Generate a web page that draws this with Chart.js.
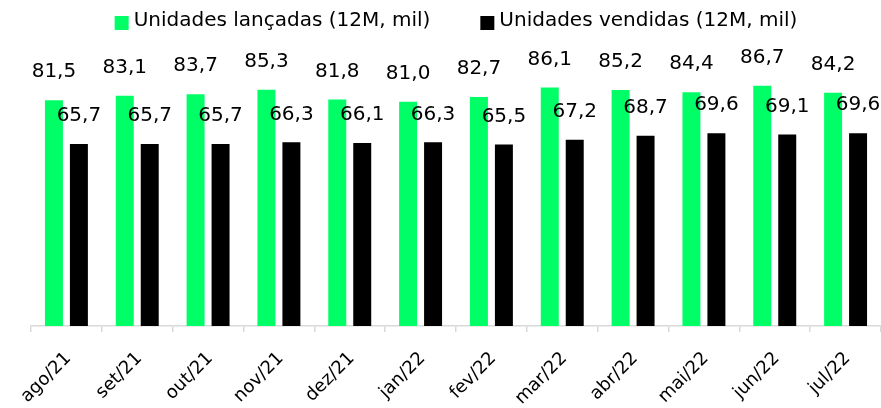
<!DOCTYPE html>
<html>
<head>
<meta charset="utf-8">
<script src="https://cdn.jsdelivr.net/npm/chart.js@4.4.0/dist/chart.umd.min.js"></script>
<style>
  html, body { margin: 0; padding: 0; background: #fff; }
  #wrap { width: 881px; height: 408px; position: relative; }
</style>
</head>
<body>
<div id="wrap"><canvas id="chart"></canvas></div>
<script>
// --- data
const categories = ['ago/21', 'set/21', 'out/21', 'nov/21', 'dez/21', 'jan/22',
                    'fev/22', 'mar/22', 'abr/22', 'mai/22', 'jun/22', 'jul/22'];
const lancadas = [81.5, 83.1, 83.7, 85.3, 81.8, 81.0, 82.7, 86.1, 85.2, 84.4, 86.7, 84.2];
const vendidas = [65.7, 65.7, 65.7, 66.3, 66.1, 66.3, 65.5, 67.2, 68.7, 69.6, 69.1, 69.6];
const seriesNames = ['Unidades lançadas (12M, mil)', 'Unidades vendidas (12M, mil)'];

const GREEN = '#00ff66';
const BLACK = '#000000';
const FONT = '"DejaVu Sans", sans-serif';

// value labels above each bar
const valueLabels = {
    id: 'valueLabels',
    afterDatasetsDraw(chart) {
        const ctx = chart.ctx;
        ctx.save();
        ctx.font = '20px ' + FONT;
        ctx.fillStyle = '#000';
        ctx.textAlign = 'center';
        ctx.textBaseline = 'middle';
        chart.data.datasets.forEach(function (ds, i) {
            chart.getDatasetMeta(i).data.forEach(function (bar, j) {
                const txt = ds.data[j].toFixed(1).replace('.', ',');
                ctx.fillText(txt, bar.x, bar.y - 28);
            });
        });
        ctx.restore();
    }
};

// legend drawn by hand, so item spacing matches
const topLegend = {
    id: 'topLegend',
    afterDraw(chart) {
        const ctx = chart.ctx;
        const box = 14, gapText = 5, gapItem = 50;
        ctx.save();
        ctx.font = '20px ' + FONT;
        ctx.textBaseline = 'middle';
        const items = chart.data.datasets.map(function (ds) {
            return { text: ds.label, color: ds.backgroundColor, w: box + gapText + ctx.measureText(ds.label).width };
        });
        let total = items.reduce(function (s, it) { return s + it.w; }, 0) + gapItem * (items.length - 1);
        const ca = chart.chartArea;
        let x = (ca.left + ca.right) / 2 - total / 2;
        const y = 21;
        items.forEach(function (it) {
            ctx.fillStyle = it.color;
            ctx.fillRect(x, y - box / 2 + 2, box, box);
            ctx.fillStyle = '#000';
            ctx.fillText(it.text, x + box + gapText, y);
            x += it.w + gapItem;
        });
        ctx.restore();
    }
};

new Chart(document.getElementById('chart'), {
    type: 'bar',
    data: {
        labels: categories,
        datasets: [
            { label: seriesNames[0], data: lancadas, backgroundColor: GREEN },
            { label: seriesNames[1], data: vendidas, backgroundColor: BLACK }
        ]
    },
    options: {
        responsive: true,
        maintainAspectRatio: false,
        animation: false,
        layout: { padding: { left: 31, right: 0, top: 49, bottom: 0 } },
        datasets: { bar: { categoryPercentage: 0.705, barPercentage: 0.72 } },
        plugins: { legend: { display: false }, tooltip: { enabled: false } },
        scales: {
            x: {
                grid: { display: true, drawOnChartArea: false, color: '#d9d9d9', lineWidth: 1.5, tickLength: 6 },
                border: { display: true, color: '#d9d9d9', width: 1.5 },
                ticks: { color: '#000', font: { family: FONT, size: 18 }, minRotation: 45, maxRotation: 45,
                         padding: 16, labelOffset: 2 },
                afterFit: function (s) { s.height = 82; }
            },
            y: { display: false, min: 0, max: 100 }
        }
    },
    plugins: [valueLabels, topLegend]
});
</script>
</body>
</html>
